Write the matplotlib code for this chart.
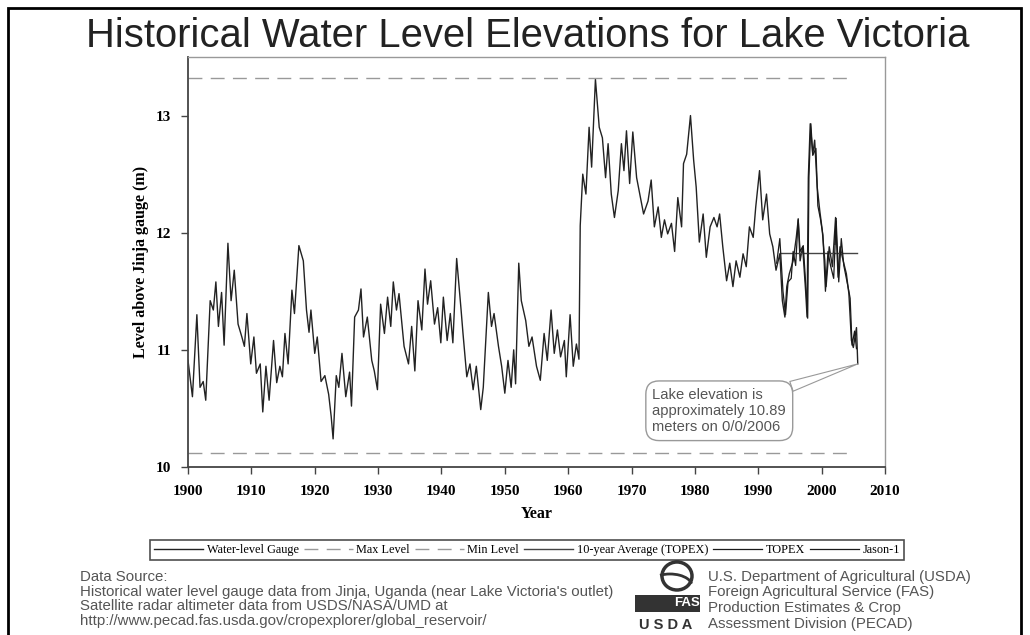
import matplotlib
matplotlib.use('Agg')
from matplotlib import pyplot as plt
from matplotlib.patches import Rectangle, Ellipse, Arc

# Jinja gauge readings (year, level in m)
gauge_year = [1900.0, 1900.7, 1901.4, 1901.9, 1902.4, 1902.8, 1903.5, 1904.0, 1904.4, 1904.8,
              1905.3, 1905.7, 1906.3, 1906.8, 1907.3, 1907.9, 1908.5, 1908.9, 1909.3, 1909.9,
              1910.4, 1910.8, 1911.4, 1911.8, 1912.3, 1912.8, 1913.5, 1914.0, 1914.5, 1914.9,
              1915.3, 1915.8, 1916.4, 1916.8, 1917.5, 1918.2, 1918.7, 1919.1, 1919.4, 1920.0,
              1920.4, 1921.0, 1921.6, 1922.2, 1922.6, 1922.9, 1923.4, 1923.8, 1924.3, 1924.9,
              1925.5, 1925.8, 1926.3, 1926.9, 1927.3, 1927.7, 1928.3, 1929.0, 1929.4, 1929.9,
              1930.4, 1931.0, 1931.5, 1932.0, 1932.4, 1932.9, 1933.3, 1934.1, 1934.8, 1935.3,
              1935.8, 1936.3, 1936.9, 1937.4, 1937.8, 1938.3, 1938.9, 1939.4, 1939.9, 1940.3,
              1940.9, 1941.4, 1941.8, 1942.4, 1943.1, 1943.4, 1944.0, 1944.5, 1945.0, 1945.5,
              1946.2, 1946.6, 1947.4, 1947.9, 1948.3, 1949.0, 1949.5, 1950.0, 1950.5, 1951.0,
              1951.4, 1951.7, 1952.2, 1952.6, 1953.3, 1953.8, 1954.3, 1955.0, 1955.6, 1956.2,
              1956.7, 1957.3, 1957.8, 1958.3, 1958.8, 1959.4, 1959.7, 1960.3, 1960.8, 1961.3,
              1961.7, 1961.9, 1962.3, 1962.8, 1963.3, 1963.7, 1964.3, 1964.9, 1965.4, 1965.9,
              1966.3, 1966.8, 1967.3, 1967.9, 1968.4, 1968.8, 1969.2, 1969.7, 1970.2, 1970.8,
              1971.3, 1971.9, 1972.6, 1973.1, 1973.6, 1974.2, 1974.7, 1975.2, 1975.7, 1976.3,
              1976.8, 1977.3, 1977.9, 1978.2, 1978.7, 1979.3, 1979.8, 1980.2, 1980.7, 1981.3,
              1981.8, 1982.4, 1983.0, 1983.5, 1983.9, 1984.4, 1985.0, 1985.5, 1986.0, 1986.5,
              1987.1, 1987.6, 1988.1, 1988.6, 1989.2, 1989.6, 1990.2, 1990.7, 1991.3, 1991.8,
              1992.3, 1992.8, 1993.4, 1993.8, 1994.2, 1994.5, 1994.9, 1995.5, 1996.0, 1996.3,
              1996.6, 1997.0, 1997.5, 1997.7, 1997.9, 1998.2, 1998.6, 1998.9, 1999.3, 1999.7,
              2000.1, 2000.5, 2000.7, 2001.2, 2001.7, 2002.2, 2002.6, 2002.9, 2003.4, 2003.9,
              2004.3, 2004.7, 2005.0, 2005.5, 2005.7]
gauge_level = [10.91, 10.60, 11.30, 10.68, 10.73, 10.57, 11.42, 11.34, 11.58, 11.20,
               11.49, 11.04, 11.91, 11.42, 11.68, 11.22, 11.11, 11.03, 11.31, 10.88,
               11.11, 10.80, 10.88, 10.47, 10.86, 10.57, 11.08, 10.72, 10.86, 10.77,
               11.14, 10.88, 11.51, 11.31, 11.89, 11.76, 11.34, 11.15, 11.34, 10.97,
               11.11, 10.73, 10.78, 10.62, 10.43, 10.24, 10.78, 10.68, 10.97, 10.60,
               10.81, 10.52, 11.28, 11.34, 11.52, 11.11, 11.28, 10.91, 10.82, 10.66,
               11.39, 11.14, 11.45, 11.20, 11.58, 11.34, 11.48, 11.03, 10.88, 11.20,
               10.82, 11.42, 11.17, 11.69, 11.39, 11.59, 11.22, 11.36, 11.06, 11.45,
               11.08, 11.31, 11.06, 11.78, 11.34, 11.14, 10.77, 10.88, 10.66, 10.86,
               10.49, 10.68, 11.49, 11.20, 11.31, 11.03, 10.86, 10.63, 10.91, 10.68,
               11.00, 10.71, 11.74, 11.42, 11.25, 11.03, 11.11, 10.86, 10.74, 11.14,
               10.91, 11.34, 10.97, 11.17, 10.94, 11.08, 10.77, 11.30, 10.86, 11.05,
               10.92, 12.06, 12.50, 12.33, 12.90, 12.56, 13.31, 12.90, 12.81, 12.47,
               12.76, 12.33, 12.13, 12.36, 12.76, 12.53, 12.87, 12.42, 12.86, 12.47,
               12.33, 12.16, 12.27, 12.45, 12.05, 12.22, 11.96, 12.11, 11.99, 12.08,
               11.84, 12.30, 12.05, 12.59, 12.67, 13.00, 12.62, 12.39, 11.92, 12.16,
               11.79, 12.05, 12.13, 12.05, 12.16, 11.88, 11.59, 11.74, 11.54, 11.76,
               11.62, 11.82, 11.71, 12.05, 11.96, 12.22, 12.53, 12.11, 12.33, 11.99,
               11.88, 11.68, 11.82, 11.42, 11.28, 11.54, 11.65, 11.76, 11.96, 12.11,
               11.76, 11.88, 11.48, 11.28, 12.47, 12.93, 12.67, 12.79, 12.39, 12.19,
               12.02, 11.76, 11.54, 11.88, 11.71, 12.13, 11.62, 11.88, 11.76, 11.65,
               11.48, 11.08, 11.02, 11.19, 10.88]

# satellite altimetry
topex_year = [1992.9, 1993.4, 1993.9, 1994.3, 1994.7, 1995.2, 1995.5, 1995.9, 1996.3, 1996.6,
              1997.1, 1997.5, 1997.8, 1998.0, 1998.3, 1998.6, 1999.1, 1999.4, 1999.8, 2000.2,
              2000.6, 2001.0, 2001.4, 2001.9, 2002.3]
topex_level = [11.74, 11.95, 11.50, 11.30, 11.58, 11.61, 11.84, 11.72, 12.12, 11.84,
               11.89, 11.55, 11.27, 12.49, 12.93, 12.66, 12.72, 12.23, 12.12, 11.98,
               11.50, 11.84, 11.72, 11.61, 12.12]
jason_year = [2002.1, 2002.3, 2002.7, 2003.1, 2003.5, 2003.9, 2004.3, 2004.5, 2004.8, 2005.2, 2005.5]
jason_level = [11.90, 12.10, 11.58, 11.95, 11.72, 11.61, 11.50, 11.44, 11.04, 11.16, 11.01]

max_level = 13.32
min_level = 10.12
level_line_years = [1900, 2004.2]
avg_topex = 11.83
avg_years = [1993.4, 2005.6]

fig = plt.figure(figsize=(10.3, 6.35), dpi=100)
ax = fig.add_axes([188 / 1030, 1 - 467 / 635, 697 / 1030, 410 / 635])

serif = 'Liberation Serif'
sans = 'Liberation Sans'

ax.plot(gauge_year, gauge_level, color='#222222', lw=1.0, label='Water-level Gauge')
ax.plot(level_line_years, [max_level] * 2, color='#999999', lw=1.0, dashes=(10, 6), label='Max Level')
ax.plot(level_line_years, [min_level] * 2, color='#999999', lw=1.0, dashes=(10, 6), label='Min Level')
ax.plot(avg_years, [avg_topex] * 2, color='#444444', lw=1.0, label='10-year Average (TOPEX)')
ax.plot(topex_year, topex_level, color='#1a1a1a', lw=0.9, label='TOPEX')
ax.plot(jason_year, jason_level, color='#1a1a1a', lw=0.9, label='Jason-1')

ax.set_xlim(1900, 2010)
ax.set_ylim(10, 13.5)
ax.set_xticks(range(1900, 2011, 10))
ax.set_yticks([10, 11, 12, 13])
ax.tick_params(direction='out', length=5, width=1, color='#444444')
ax.tick_params(axis='x', pad=8)
ax.tick_params(axis='y', pad=7)
for lab in ax.get_xticklabels() + ax.get_yticklabels():
    lab.set_fontfamily(serif)
    lab.set_fontweight('bold')
    lab.set_fontsize(11)
for side in ['left', 'bottom']:
    ax.spines[side].set_color('#444444')
    ax.spines[side].set_linewidth(1.3)
for side in ['right', 'top']:
    ax.spines[side].set_color('#999999')
    ax.spines[side].set_linewidth(1.0)

ax.set_xlabel('Year', fontfamily=serif, fontweight='bold', fontsize=11.5, labelpad=6)
ax.set_ylabel('Level above Jinja gauge (m)', fontfamily=serif, fontweight='bold',
              fontsize=11.5, labelpad=5)

ax.annotate('Lake elevation is\napproximately 10.89\nmeters on 0/0/2006',
            xy=(2005.7, 10.88), xytext=(1973.3, 10.48),
            fontfamily=sans, fontsize=10.6, color='#555555', va='center', ha='left',
            linespacing=1.2,
            bbox=dict(boxstyle='round,pad=0.45,rounding_size=0.9', fc='white', ec='#999999', lw=1.0),
            arrowprops=dict(arrowstyle='wedge,tail_width=0.7', fc='white', ec='#999999', lw=0.8,
                            shrinkA=0, shrinkB=0))

fig.text(528 / 1030, 1 - 36 / 635, 'Historical Water Level Elevations for Lake Victoria',
         fontfamily=sans, fontsize=28.8, color='#222222', ha='center', va='center')

leg = fig.legend(loc='center', bbox_to_anchor=(527 / 1030, 1 - 550 / 635), ncol=6,
                 prop={'family': serif, 'size': 8.8}, frameon=True, fancybox=False,
                 edgecolor='#222222', handlelength=4.0, handletextpad=0.3, columnspacing=0.4,
                 borderpad=0.35)
leg.get_frame().set_linewidth(1.2)

left_lines = ['Data Source:',
              'Historical water level gauge data from Jinja, Uganda (near Lake Victoria\'s outlet)',
              'Satellite radar altimeter data from USDS/NASA/UMD at',
              'http://www.pecad.fas.usda.gov/cropexplorer/global_reservoir/']
right_lines = ['U.S. Department of Agricultural (USDA)',
               'Foreign Agricultural Service (FAS)',
               'Production Estimates & Crop',
               'Assessment Division (PECAD)']
left_y = [577, 592, 606, 621]
right_y = [577, 592, 608, 624]
for s, y in zip(left_lines, left_y):
    fig.text(80 / 1030, 1 - y / 635, s, fontfamily=sans, fontsize=10.8,
             color='#555555', ha='left', va='center')
for s, y in zip(right_lines, right_y):
    fig.text(708 / 1030, 1 - y / 635, s, fontfamily=sans, fontsize=10.8,
             color='#555555', ha='left', va='center')

# rough USDA / FAS logo
fig.patches.append(Ellipse((677 / 1030, 1 - 576 / 635), 30 / 1030, 28 / 635,
                           transform=fig.transFigure, fc='white', ec='#333333', lw=2.5))
fig.patches.append(Arc((670 / 1030, 1 - 586 / 635), 44 / 1030, 24 / 635, theta1=10, theta2=120,
                       transform=fig.transFigure, ec='#333333', lw=2))
fig.patches.append(Rectangle((635 / 1030, 1 - 612 / 635), 65 / 1030, 17 / 635,
                             transform=fig.transFigure, fc='#333333', ec='none'))
fig.text(687 / 1030, 1 - 603 / 635, 'FAS', fontfamily=sans, fontsize=9.5, fontweight='bold',
         color='white', ha='center', va='center')
fig.text(666 / 1030, 1 - 625 / 635, 'U S D A', fontfamily=sans, fontsize=10.5, fontweight='bold',
         color='#333333', ha='center', va='center')

# outer frame of the picture
fig.patches.append(Rectangle((8 / 1030, -0.05), 1013 / 1030, 1.05 - 8 / 635,
                             transform=fig.transFigure, fc='none', ec='black', lw=2))

fig.savefig('out.png', dpi=100)
